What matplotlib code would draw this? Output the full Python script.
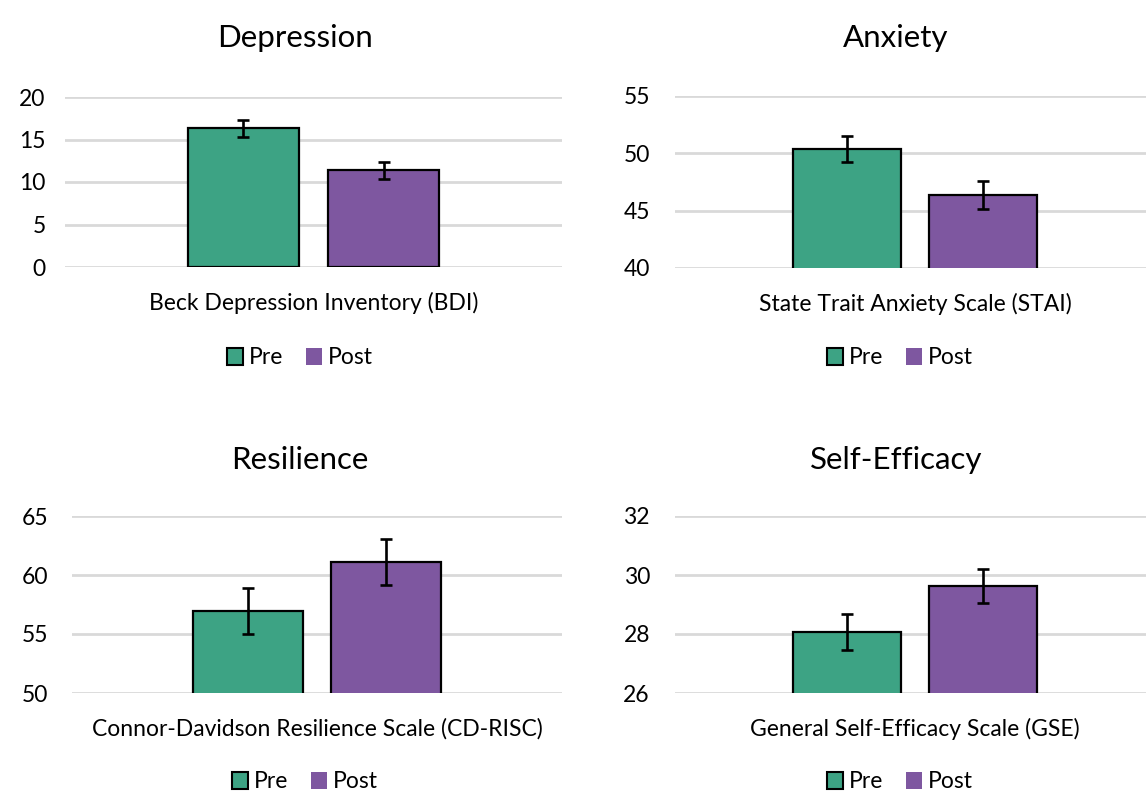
import matplotlib
matplotlib.use("Agg")
import matplotlib.pyplot as plt
from matplotlib.patches import Patch

plt.rcParams['font.family'] = ['Lato', 'DejaVu Sans']

# Panel data: title, scale name, pre/post means and error bar half-widths
titles = ["Depression", "Anxiety", "Resilience", "Self-Efficacy"]
scales = ["Beck Depression Inventory (BDI)",
          "State Trait Anxiety Scale (STAI)",
          "Connor-Davidson Resilience Scale (CD-RISC)",
          "General Self-Efficacy Scale (GSE)"]
pre_means = [16.3, 50.4, 56.95, 28.07]
post_means = [11.4, 46.35, 61.1, 29.62]
pre_err = [0.95, 1.15, 1.95, 0.6]
post_err = [1.0, 1.2, 1.92, 0.58]
y_limits = [(0, 20), (40, 55), (50, 65), (26, 32)]
y_steps = [5, 5, 5, 2]
series = ["Pre", "Post"]

PRE_COLOR = "#3da384"
POST_COLOR = "#7e57a0"
GRID = "#d9d9d9"

W, H = 1146, 796
fig = plt.figure(figsize=(W / 100, H / 100), dpi=100)

# pixel boxes (left, top, right, bottom) for each plot area
boxes = [(65, 97, 562, 267), (675, 96, 1155, 268),
         (72, 516, 562, 693), (675, 516, 1155, 693)]
ytick_pads = [14, 18, 17, 18]
title_pos = [(295, 38), (896, 38), (300, 460), (896, 460)]
legend_pos = [(300, 358), (900, 358), (305, 782), (900, 782)]

for i in range(4):
    l, t, r, b = boxes[i]
    ax = fig.add_axes([l / W, 1 - b / H, (r - l) / W, (b - t) / H])
    bw = 0.225
    off = 0.141
    ax.bar([-off], [pre_means[i]], width=bw, color=PRE_COLOR,
           edgecolor="black", linewidth=1.6, zorder=3)
    ax.bar([off], [post_means[i]], width=bw, color=POST_COLOR,
           edgecolor="black", linewidth=1.6, zorder=3)
    ax.errorbar([-off, off], [pre_means[i], post_means[i]],
                yerr=[pre_err[i], post_err[i]], fmt="none", ecolor="black",
                elinewidth=1.9, capsize=4.3, capthick=1.9, zorder=4)
    lo, hi = y_limits[i]
    ax.set_xlim(-0.5, 0.5)
    ax.set_ylim(lo, hi)
    ax.set_yticks(list(range(lo, hi + 1, y_steps[i])))
    ax.set_xticks([0])
    ax.set_xticklabels([scales[i]])
    ax.tick_params(axis="both", length=0, labelsize=16.5, colors="black")
    ax.tick_params(axis="x", pad=18)
    ax.tick_params(axis="y", pad=ytick_pads[i])
    ax.grid(axis="y", color=GRID, linewidth=2, zorder=0)
    ax.set_axisbelow(True)
    for s in ax.spines.values():
        s.set_visible(False)
    ax.patch.set_alpha(0)

    tx, ty = title_pos[i]
    fig.text(tx / W, 1 - ty / H, titles[i], ha="center", va="center",
             fontsize=22.5)

    handles = [Patch(facecolor=PRE_COLOR, edgecolor="black", linewidth=1.5),
               Patch(facecolor=POST_COLOR, edgecolor="none")]
    lx, ly = legend_pos[i]
    fig.legend(handles, series, loc="center",
               bbox_to_anchor=(lx / W, 1 - ly / H), ncol=2, frameon=False,
               fontsize=16.5, handlelength=0.7, handleheight=0.7,
               handletextpad=0.25, columnspacing=1.0)

fig.savefig("out.png", dpi=100)
